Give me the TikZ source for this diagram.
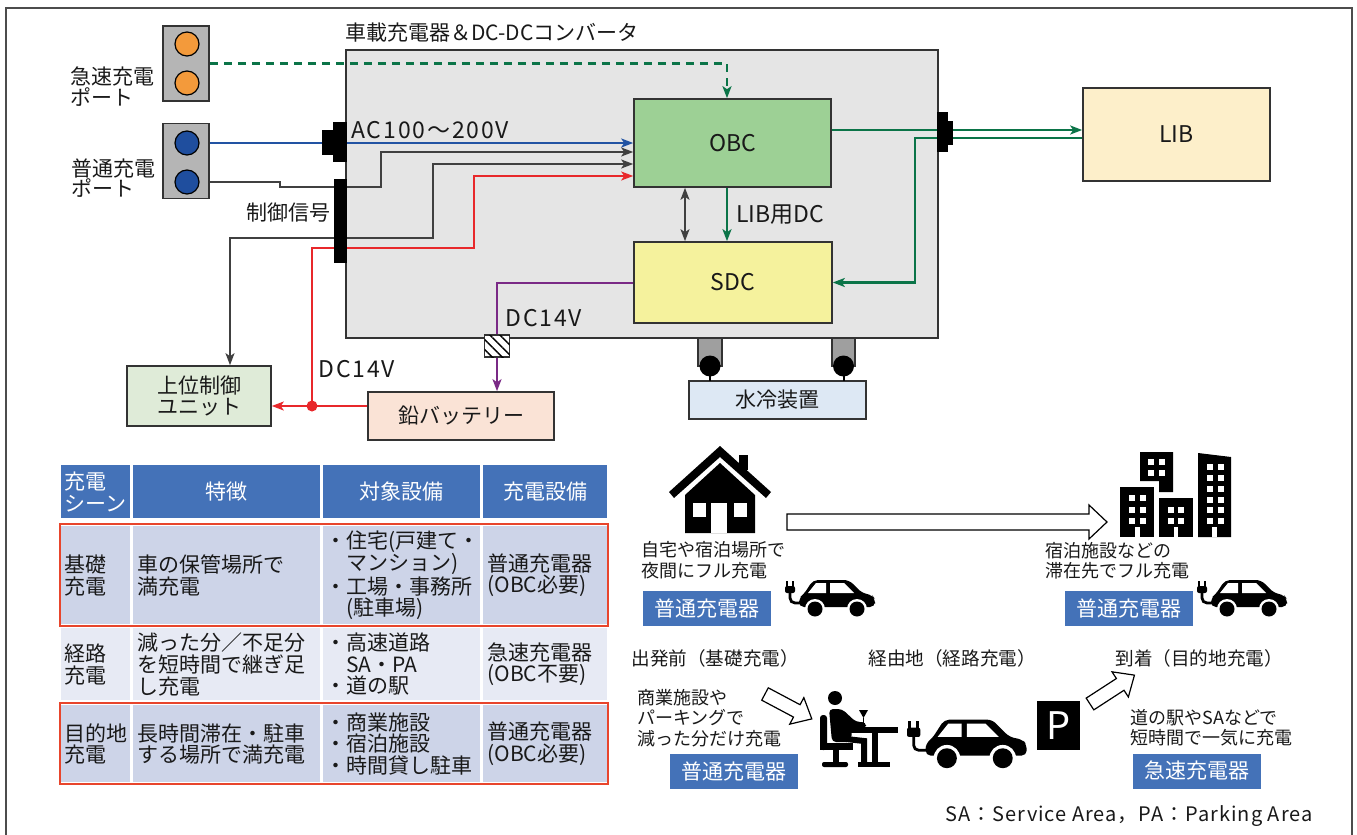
\documentclass[tikz,border=0pt]{standalone}
\usepackage{fontspec}
\setmainfont{Noto Sans CJK JP}
\usetikzlibrary{positioning,arrows.meta,patterns.meta}
\definecolor{boxgray}{HTML}{E5E5E5}
\definecolor{obcgreen}{HTML}{9DD095}
\definecolor{sdcyellow}{HTML}{F5F29D}
\definecolor{libcream}{HTML}{FDEFCA}
\definecolor{unitgreen}{HTML}{DFEBD8}
\definecolor{batpink}{HTML}{FAE3D6}
\definecolor{coolblue}{HTML}{DDE8F4}
\definecolor{portgray}{HTML}{B5B5B5}
\definecolor{portorange}{HTML}{F39A3B}
\definecolor{portblue}{HTML}{1F4E9E}
\definecolor{acblue}{HTML}{2253A3}
\definecolor{lingreen}{HTML}{0B7448}
\definecolor{sigred}{HTML}{E8282B}
\definecolor{dcpurple}{HTML}{7A2A86}
\definecolor{headblue}{HTML}{4472B8}
\definecolor{rowdark}{HTML}{CDD4E8}
\definecolor{rowlight}{HTML}{E7EAF4}
\definecolor{framered}{HTML}{E8452C}
\newcommand{\voltfont}{\fontsize{11.5}{12}\selectfont\addfontfeature{LetterSpace=8}}
\newcommand{\indt}{\phantom{・}}
\tikzstyle{block} = [draw=black!80,line width=0.8pt,align=center,inner sep=0,font=\fontsize{10.5}{10.5}\selectfont]
\tikzstyle{big} = [font=\fontsize{11.5}{12}\selectfont]
\tikzstyle{arrow} = [-{Stealth[length=6pt,width=4.5pt,inset=1.5pt]}]
\tikzstyle{twoway} = [{Stealth[length=6pt,width=4.5pt,inset=1.5pt]}-{Stealth[length=6pt,width=4.5pt,inset=1.5pt]}]
\tikzstyle{sig} = [draw=black!75,line width=0.9pt]
\tikzstyle{ac} = [draw=acblue,line width=1pt]
\tikzstyle{hv} = [draw=lingreen,line width=1.2pt]
\tikzstyle{lv} = [draw=sigred,line width=0.8pt]
\tikzstyle{dc} = [draw=dcpurple,line width=1pt]
\tikzstyle{socket} = [draw=black!80,fill=portgray,line width=0.8pt,minimum width=23pt,minimum height=37.5pt,inner sep=0]
\tikzstyle{contact} = [circle,draw=black,line width=0.6pt,minimum size=12pt,inner sep=0]
\tikzstyle{txt} = [inner sep=0,align=left,font=\fontsize{10.5}{10.2}\selectfont]
\tikzstyle{cell} = [anchor=north west,inner xsep=2pt,inner ysep=0,align=left,font=\fontsize{10.5}{10.8}\selectfont]
\tikzstyle{hcell} = [cell,fill=headblue,text=white,minimum height=26.5pt]
\tikzstyle{colA} = [text width=31.5pt,inner xsep=1.5pt]
\tikzstyle{colB} = [text width=89.5pt]
\tikzstyle{colC} = [text width=76.5pt,inner xsep=1pt]
\tikzstyle{colD} = [text width=58pt]
\tikzstyle{scene} = [inner sep=0,align=left,font=\fontsize{9}{10.2}\selectfont]
\tikzstyle{stage} = [inner sep=0,font=\fontsize{9.3}{10}\selectfont]
\tikzstyle{tag} = [fill=headblue,text=white,minimum width=64pt,minimum height=17.5pt,inner sep=0,font=\fontsize{10.5}{11}\selectfont]
\tikzstyle{hollow} = [draw=black,fill=white,line width=0.6pt]
\tikzset{
  evcar/.pic={
    \fill (1,3) rectangle (3,9);
    \fill (7,3) rectangle (9,9);
    \fill[rounded corners=1pt] (0,8) rectangle (10,15);
    \draw[line width=1.4pt,rounded corners=2.5pt] (5,14) |- (16,25);
    \fill[rounded corners=2.5pt] (14,29) -- (14,20) -- (19,16) -- (28,2) -- (64,2) -- (77,15) -- (87,17) -- (90,21) -- (90,29) -- cycle;
    \fill[white] (23,15) -- (31,5) -- (41,5) -- (41,15) -- cycle;
    \fill[white] (45,5) -- (59,5) -- (69,15) -- (45,15) -- cycle;
    \fill[white] (30,31) circle (10);
    \fill[white] (72,31) circle (10);
    \fill (30,31) circle (7.5);
    \fill (72,31) circle (7.5);
  }
}
\begin{document}
\begin{tikzpicture}[x=0.5pt,y=-0.5pt,every node/.style={text=black!90}]
    \useasboundingbox (0,0) rectangle (1357,835);
    \draw [black!70,line width=0.6pt] (6,835) -- (6,8) -- (1352,8) -- (1352,835);

    \node [block,fill=boxgray,minimum width=296pt,minimum height=144pt] (charger) at (642,194) {};
    \node [txt,anchor=west] (title) at (345,33) {車載充電器＆DC-DCコンバータ};
    \node [block,big,fill=obcgreen,minimum width=98.5pt,minimum height=44pt] (obc) at (732.5,143) {OBC};
    \node [block,big,fill=sdcyellow,minimum width=99pt,minimum height=40.5pt] (sdc) at (733,282.5) {SDC};
    \node [block,big,fill=libcream,minimum width=93.5pt,minimum height=46.5pt] (lib) at (1176.5,134.5) {LIB};
    \node [block,fill=unitgreen,minimum width=72pt,minimum height=30pt] (ecu) at (199,396) {上位制御\\ユニット};
    \node [block,fill=batpink,minimum width=93pt,minimum height=24pt] (bat) at (461,416) {鉛バッテリー};
    \node [block,fill=coolblue,minimum width=88.5pt,minimum height=19pt] (cooler) at (777.5,400) {水冷装置};

    \node [socket] (fport) at (186,63.5) {};
    \node [contact,fill=portorange] (fp1) at (187,44) {};
    \node [contact,fill=portorange] (fp2) at (187,83) {};
    \node [socket] (nport) at (186,161) {};
    \node [contact,fill=portblue] (np1) at (187,143) {};
    \node [contact,fill=portblue] (np2) at (187,182) {};
    \node [txt,anchor=west] (fportname) at (70,86.5) {急速充電\\ポート};
    \node [txt,anchor=west] (nportname) at (71,178) {普通充電\\ポート};
    \node [txt,anchor=west] (ctrl) at (246,213) {制御信号};
    \node [txt,anchor=west,font=\voltfont] (acin) at (351,130) {AC100～200V};
    \node [txt,anchor=west,big] (libdc) at (736,215) {LIB用DC};
    \node [txt,anchor=west,font=\voltfont] (dcout) at (505,318) {DC14V};
    \node [txt,anchor=west,font=\voltfont] (dcbat) at (318,369) {DC14V};

    \draw [hv,dash pattern=on 4pt off 3pt,arrow] (fport.east) -| ([xshift=-2.75pt]obc.north);
    \draw [ac,arrow] (np1 -| nport.east) -- (np1 -| obc.west);
    \draw [sig,arrow] (np2 -| nport.east) -- (280,182) |- (381,187) |- ([yshift=-4.5pt]obc.west);
    \draw [sig,twoway] ([xshift=15.5pt]ecu.north) |- (433,238) |- ([yshift=-10.5pt]obc.west);
    \coordinate (rdot) at (312,406);
    \draw [lv,arrow] (rdot) |- (474,248) |- ([yshift=-16.5pt]obc.west);
    \draw [lv,arrow] (bat.west |- rdot) -- (ecu.east |- rdot);
    \fill [sigred] (rdot) circle (5.5);
    \draw [dc,arrow] (sdc.west) -| ([xshift=18pt]bat.north);
    \draw [hv,arrow] ([xshift=-2.75pt]obc.south) -- ([xshift=-3pt]sdc.north);
    \draw [sig,twoway] ([xshift=-23.75pt]obc.south) -- ([xshift=-24pt]sdc.north);
    \draw [hv,arrow] ([yshift=6.5pt]obc.east) -- ([yshift=6.5pt]obc.east -| lib.west);
    \draw [hv,arrow] ([yshift=-1.75pt]lib.west) -| ([xshift=41pt]sdc.east) -- (sdc.east);

    \fill (333,122) rectangle (347,162);
    \fill (322,130) rectangle (333,155);
    \fill (334,179) rectangle (347,263);
    \fill (937,112) rectangle (948,152);
    \fill (948,121) rectangle (953,145);
    \node [draw=black!80,fill=white,line width=0.6pt,minimum width=12.5pt,minimum height=11pt,inner sep=0,
        postaction={pattern={Lines[angle=-45,distance=3.5pt,line width=0.7pt]}}] (fuse) at (497,346) {};

    \filldraw [fill=gray!75,draw=black!80,line width=0.6pt] (698,338) rectangle (722,366);
    \filldraw [fill=gray!75,draw=black!80,line width=0.6pt] (832,338) rectangle (855,366);
    \fill (710,366) circle (10.5);
    \fill (843.5,366) circle (10.5);
    \draw [line width=1pt] (710,370) -- (710,381);
    \draw [line width=1pt] (843.5,370) -- (843.5,381);

    \node [hcell,colA] (h1) at (61,465) {充電\\シーン};
    \node [hcell,colB,align=center] (h2) at (133,465) {特徴};
    \node [hcell,colC,align=center] (h3) at (323,465) {対象設備};
    \node [hcell,colD,align=center] (h4) at (483,465) {充電設備};
    \node [cell,colA,fill=rowdark,minimum height=49pt] (r1c1) at (61,526) {基礎\\充電};
    \node [cell,colB,fill=rowdark,minimum height=49pt] (r1c2) at (133,526) {車の保管場所で\\満充電};
    \node [cell,colC,fill=rowdark,minimum height=49pt] (r1c3) at (323,526) {・住宅(戸建て・\\\indt マンション)\\・工場・事務所\\\indt(駐車場)};
    \node [cell,colD,fill=rowdark,minimum height=49pt] (r1c4) at (483,526) {普通充電器\\(OBC必要)};
    \node [cell,colA,fill=rowlight,minimum height=36pt] (r2c1) at (61,628) {経路\\充電};
    \node [cell,colB,fill=rowlight,minimum height=36pt] (r2c2) at (133,628) {減った分／不足分\\を短時間で継ぎ足\\し充電};
    \node [cell,colC,fill=rowlight,minimum height=36pt] (r2c3) at (323,628) {・高速道路\\\indt SA・PA\\・道の駅};
    \node [cell,colD,fill=rowlight,minimum height=36pt] (r2c4) at (483,628) {急速充電器\\(OBC不要)};
    \node [cell,colA,fill=rowdark,minimum height=38.5pt] (r3c1) at (61,705) {目的地\\充電};
    \node [cell,colB,fill=rowdark,minimum height=38.5pt] (r3c2) at (133,705) {長時間滞在・駐車\\する場所で満充電};
    \node [cell,colC,fill=rowdark,minimum height=38.5pt] (r3c3) at (323,705) {・商業施設\\・宿泊施設\\・時間貸し駐車};
    \node [cell,colD,fill=rowdark,minimum height=38.5pt] (r3c4) at (483,705) {普通充電器\\(OBC必要)};
    \draw [framered,line width=1.1pt] (60,524) rectangle (608,626);
    \draw [framered,line width=1.1pt] (60,703) rectangle (608,784);

    \fill (669,492) -- (720,446) -- (771,492) -- (766,498) -- (720,457) -- (674,498) -- cycle;
    \fill (739,455) rectangle (748,470);
    \fill (685,533) -- (685,495) -- (720,463) -- (755,495) -- (755,533) -- cycle;
    \fill [white] (693,503) rectangle (706,517);
    \fill [white] (734,503) rectangle (747,517);
    \fill [white] (711,503) rectangle (727,533);
    \draw [hollow] (787,514) -- (1089,514) -- (1089,505) -- (1107,522) -- (1089,539) -- (1089,530) -- (787,530) -- cycle;

    \fill (1140,452) -- (1173,452) -- (1173,492) -- (1159,492) -- (1159,481) -- (1140,481) -- cycle;
    \fill (1120,487) rectangle (1154,537);
    \fill (1159,498) rectangle (1193,537);
    \fill (1198,453) -- (1231,457) -- (1231,537) -- (1198,537) -- cycle;
    \foreach \x in {1148,1159} \foreach \y in {459,470} \fill [white] (\x,\y) rectangle ++(6,6);
    \foreach \x in {1129,1140} \foreach \y in {495,507,518} \fill [white] (\x,\y) rectangle ++(6,6);
    \foreach \x in {1168,1178} \foreach \y in {507,518} \fill [white] (\x,\y) rectangle ++(6,6);
    \foreach \x in {1207,1218} \foreach \y in {464,475,486,497,507,518} \fill [white] (\x,\y) rectangle ++(6,6);
    \fill [white] (1135,527) rectangle (1140,537);
    \fill [white] (1174,527) rectangle (1178,537);
    \fill [white] (1212,527) rectangle (1217,537);

    \node [scene,anchor=west] (hometext) at (641,560) {自宅や宿泊場所で\\夜間にフル充電};
    \node [tag] (hometag) at (707,608.5) {普通充電器};
    \pic at (785,578) {evcar};
    \node [scene,anchor=west] (staytext) at (1045,561) {宿泊施設などの\\滞在先でフル充電};
    \node [tag] (staytag) at (1129,608.5) {普通充電器};
    \pic at (1197,578) {evcar};

    \node [stage,anchor=west] (start) at (631,658) {出発前（基礎充電）};
    \node [stage,anchor=west] (via) at (868,658) {経由地（経路充電）};
    \node [stage,anchor=west] (goal) at (1115,658) {到着（目的地充電）};
    \node [scene,anchor=west] (viatext) at (637,718) {商業施設や\\パーキングで\\減った分だけ充電};
    \node [tag] (viatag) at (734,771.5) {普通充電器};
    \node [scene,anchor=west] (goaltext) at (1130,728) {道の駅やSAなどで\\短時間で一気に充電};
    \node [tag] (goaltag) at (1197,771) {急速充電器};
    \begin{scope}[shift={(765,694)},rotate=-28]
      \draw [hollow] (0,-7) -- (36,-7) -- (36,-15) -- (53,0) -- (36,15) -- (36,7) -- (0,7) -- cycle;
    \end{scope}
    \begin{scope}[shift={(1090,704)},rotate=33]
      \draw [hollow] (0,-7) -- (36,-7) -- (36,-15) -- (53,0) -- (36,15) -- (36,7) -- (0,7) -- cycle;
    \end{scope}

    \fill (835,698) circle (7);
    \fill [rounded corners=1.5pt] (820,715) rectangle (827,750);
    \fill (820,743) rectangle (853,750);
    \fill (833,750) rectangle (839,764);
    \fill [rounded corners=1pt] (822,762) rectangle (848,767);
    \fill [rounded corners=2pt] (829,709) -- (842,709) -- (856,722) -- (866,722) -- (866,729) -- (852,729) -- (851,742) -- (832,742) -- cycle;
    \draw [line width=3pt] (846,739) -- (864,741) -- (864,765);
    \fill (847,727) rectangle (898,733);
    \fill (872,733) rectangle (878,765);
    \fill (858,762) rectangle (890,767);
    \fill (859,710) -- (868,710) -- (863.5,718) -- cycle;
    \draw [line width=0.8pt] (863.5,718) -- (863.5,727);
    \pic [scale=1.33] at (907,717) {evcar};
    \node [fill=black,text=white,minimum width=21.5pt,minimum height=24.5pt,inner sep=0,font=\fontsize{19}{19}\selectfont] (park) at (1058.5,725.5) {P};

    \node [txt,anchor=east,font=\fontsize{10}{10}\selectfont\addfontfeature{LetterSpace=5}] (abbr) at (1313,816) {SA：Service Area，PA：Parking Area};
\end{tikzpicture}
\end{document}
